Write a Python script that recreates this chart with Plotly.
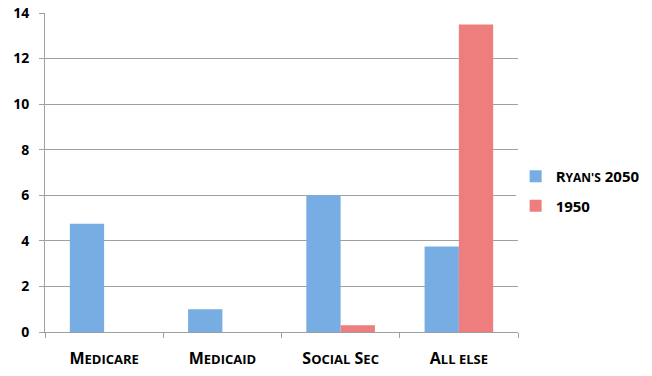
import plotly.graph_objects as go

categories = ["Medicare", "Medicaid", "Social Sec", "All else"]
tick_labels = [
    "M<span style='font-size:13px'>EDICARE</span>",
    "M<span style='font-size:13px'>EDICAID</span>",
    "S<span style='font-size:13px'>OCIAL</span> S<span style='font-size:13px'>EC</span>",
    "A<span style='font-size:13px'>LL ELSE</span>",
]
ryan_2050 = [4.75, 1.0, 6.0, 3.75]
y1950 = [0.0, 0.0, 0.3, 13.5]
series_names = ["R<span style='font-size:12px'>YAN'S</span> 2050", "1950"]

FONT = "Open Sans"

fig = go.Figure()
fig.add_trace(go.Bar(x=categories, y=ryan_2050, name=series_names[0], legendgroup="a",
                     marker=dict(color="#78ade3", line=dict(width=0))))
fig.add_trace(go.Bar(x=categories, y=y1950, name=series_names[1], legendgroup="b",
                     marker=dict(color="#ee7d7d", line=dict(width=0))))

fig.update_layout(
    width=652, height=376,
    margin=dict(l=45, r=134, t=13, b=44, autoexpand=False),
    paper_bgcolor="white", plot_bgcolor="white",
    barmode="group", bargap=0.42, bargroupgap=0,
    font=dict(family=FONT, size=14, color="black"),
    legend=dict(x=0.995, y=0.442, xanchor="left", yanchor="middle",
                font=dict(family=FONT, size=15, color="black", weight="bold"),
                itemwidth=30, tracegroupgap=7),
    showlegend=True,
)
fig.update_xaxes(
    tickvals=categories, ticktext=tick_labels,
    tickson="boundaries", ticks="outside", ticklen=5, tickcolor="#a0a0a0",
    showline=True, linecolor="#a0a0a0", linewidth=1,
    showgrid=False, ticklabelstandoff=12, automargin=False,
    tickfont=dict(family=FONT, size=16, color="black", weight="bold"),
)
fig.update_yaxes(
    range=[0, 14], dtick=2, ticks="outside", ticklen=5, tickcolor="#a0a0a0",
    showline=True, linecolor="#a0a0a0", linewidth=1,
    showgrid=True, gridcolor="#a0a0a0", gridwidth=1, zeroline=False,
    ticklabelstandoff=7, automargin=False,
    tickfont=dict(family=FONT, size=14, color="black", weight="bold"),
)

fig.write_html("out.html", config={"displayModeBar": False},
               post_script="document.body.style.margin='0';document.body.style.overflow='hidden';")
